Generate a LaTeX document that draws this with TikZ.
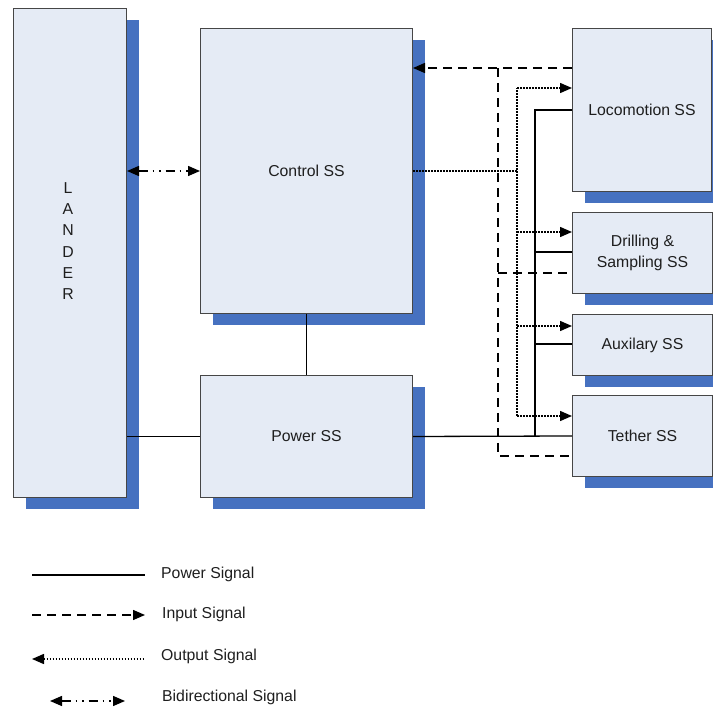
\documentclass[tikz,border=0pt]{standalone}
\usepackage{fontspec}
\setmainfont{Liberation Sans}
\usetikzlibrary{shadows,arrows.meta}
\definecolor{boxfill}{RGB}{229,235,245}
\definecolor{shblue}{RGB}{70,113,192}
\definecolor{boxline}{RGB}{70,70,70}
\definecolor{txt}{RGB}{30,30,30}
\tikzset{
  sysbox/.style={draw=boxline, line width=1pt, fill=boxfill, anchor=north west, inner sep=0pt,
    text=txt, font=\fontsize{15.8}{21}\selectfont, align=center,
    general shadow={fill=shblue, shadow xshift=12pt, shadow yshift=-12pt}},
  pwrline/.style={line width=1.3pt, black},
  inpline/.style={line width=1.4pt, black, dash pattern=on 9pt off 6pt},
  outline/.style={line width=1.5pt, black, dash pattern=on 1.6pt off 1.4pt},
  bidline/.style={line width=1.4pt, black, dash pattern=on 9pt off 5pt on 1.5pt off 5pt on 1.5pt off 5pt},
  tip/.style={-{Triangle[length=12pt,width=10pt]}},
  tipb/.style={{Triangle[length=12pt,width=10pt]}-},
  tipbb/.style={{Triangle[length=12pt,width=10pt]}-{Triangle[length=12pt,width=10pt]}},
  legtxt/.style={anchor=west, text=txt, font=\fontsize{15.8}{18}\selectfont, inner sep=0pt}
}
\begin{document}
\begin{tikzpicture}[x=1pt,y=-1pt]
\useasboundingbox (0,0) rectangle (713,708);
% boxes
\node[sysbox, minimum width=113pt, minimum height=489pt] (lander) at (13,8) {};
\node[text=txt, font=\fontsize{15.8}{21.3}\selectfont, align=center] (landertxt) at (68,241) {L\\A\\N\\D\\E\\R};
\node[sysbox, minimum width=212pt, minimum height=285pt] (ctrl) at (200,28) {Control SS};
\node[sysbox, minimum width=212pt, minimum height=122pt] (pwr) at (200,375) {Power SS};
\node[sysbox, minimum width=139pt, minimum height=163pt] (loco) at (572,28) {Locomotion SS};
\node[sysbox, minimum width=140pt, minimum height=81pt] (drill) at (572,212) {Drilling \&\\Sampling SS};
\node[sysbox, minimum width=140pt, minimum height=61pt] (aux) at (572,314) {Auxilary SS};
\node[sysbox, minimum width=140pt, minimum height=81pt] (teth) at (572,395) {Tether SS};
% bus coordinates
\coordinate (ibtop) at (498,68);
\coordinate (ibdr) at (498,273);
\coordinate (ibbot) at (498,456);
\coordinate (obmid) at (517,171);
\coordinate (obtop) at (517,88);
\coordinate (obdr) at (517,232);
\coordinate (obaux) at (517,326);
\coordinate (obbot) at (517,416);
\coordinate (pbtop) at (535,110);
\coordinate (pbdr) at (535,252);
\coordinate (pbaux) at (535,344);
\coordinate (pbbot) at (535,436);
% power signals
\draw[pwrline] (ctrl.south) -- (pwr.north);
\draw[pwrline] (lander.east |- pwr.west) -- (pwr.west);
\draw[pwrline] (pwr.east) -- (teth.west |- pbbot);
\draw[pwrline] (pbbot) -- (pbtop) -- (loco.west |- pbtop);
\draw[pwrline] (pbdr) -- (drill.west |- pbdr);
\draw[pwrline] (pbaux) -- (aux.west |- pbaux);
% input signals
\draw[inpline, tip] (loco.west |- ibtop) -- (ctrl.east |- ibtop);
\draw[inpline] (ibtop) -- (ibbot) -- (teth.west |- ibbot);
\draw[inpline] (ibdr) -- (drill.west |- ibdr);
% output signals
\draw[outline] (ctrl.east |- obmid) -- (obmid);
\draw[outline] (obbot) -- (obtop);
\draw[outline, tip] (obtop) -- (loco.west |- obtop);
\draw[outline, tip] (obdr) -- (drill.west |- obdr);
\draw[outline, tip] (obaux) -- (aux.west |- obaux);
\draw[outline, tip] (obbot) -- (teth.west |- obbot);
% bidirectional
\draw[bidline, tipbb] (lander.east |- obmid) -- (ctrl.west |- obmid);
% legend
\coordinate (l1a) at (32,575); \coordinate (l1b) at (145,575);
\coordinate (l2a) at (32,615); \coordinate (l2b) at (145,615);
\coordinate (l3a) at (32,659); \coordinate (l3b) at (145,659);
\coordinate (l4a) at (50,701); \coordinate (l4b) at (125,701);
\draw[pwrline] (l1a) -- (l1b);
\draw[inpline, tip] (l2a) -- (l2b);
\draw[outline, tipb] (l3a) -- (l3b);
\draw[bidline, tipbb] (l4a) -- (l4b);
\node[legtxt] (lt1) at (161,574) {Power Signal};
\node[legtxt] (lt2) at (162,614) {Input Signal};
\node[legtxt] (lt3) at (161,656) {Output Signal};
\node[legtxt] (lt4) at (162,697) {Bidirectional Signal};
\end{tikzpicture}
\end{document}
